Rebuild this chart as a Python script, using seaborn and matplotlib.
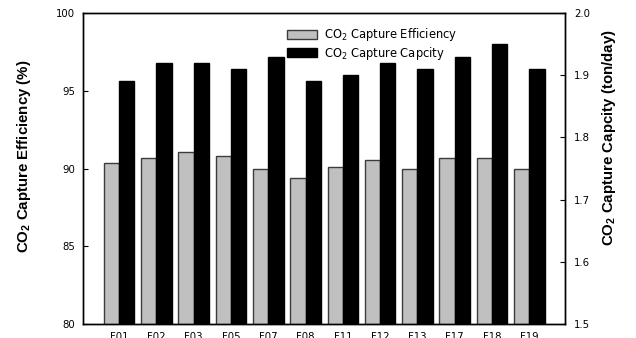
import matplotlib
matplotlib.use("Agg")
import matplotlib.pyplot as plt
from matplotlib.patches import Patch
import seaborn as sns
import pandas as pd

# Filter units and measured values
filters = ["F01", "F02", "F03", "F05", "F07", "F08", "F11", "F12", "F13", "F17", "F18", "F19"]
efficiency = [90.33, 90.68, 91.04, 90.82, 90.0, 89.37, 90.12, 90.55, 89.95, 90.68, 90.68, 90.0]
capacity = [1.89, 1.92, 1.92, 1.91, 1.93, 1.89, 1.90, 1.92, 1.91, 1.93, 1.95, 1.91]

eff_name = "CO$_2$ Capture Efficiency"
cap_name = "CO$_2$ Capture Capcity"
series_order = [eff_name, cap_name]
fill = {eff_name: "#c0c0c0", cap_name: "#000000"}
edge = {eff_name: "#3c3c3c", cap_name: "#000000"}

df_eff = pd.DataFrame({"Filter": filters, "value": efficiency, "series": eff_name})
df_cap = pd.DataFrame({"Filter": filters, "value": capacity, "series": cap_name})

sns.set_style("ticks")
plt.rcParams["font.family"] = ["DejaVu Sans"]
plt.rcParams["mathtext.fontset"] = "custom"
plt.rcParams["mathtext.rm"] = "DejaVu Sans"
plt.rcParams["mathtext.bf"] = "Liberation Sans:bold"
plt.rcParams["mathtext.it"] = "DejaVu Sans:italic"
plt.rcParams["text.color"] = "black"
plt.rcParams["axes.labelcolor"] = "black"
plt.rcParams["xtick.color"] = "black"
plt.rcParams["ytick.color"] = "black"

fig = plt.figure(figsize=(6.36, 3.38), dpi=100)
ax = fig.add_axes([0.1305, 0.0414, 0.888 - 0.1305, 0.9615 - 0.0414])
ax2 = ax.twinx()

# Efficiency on the left axis, capacity on the right; both share the dodge slots
sns.barplot(data=df_eff, x="Filter", y="value", hue="series", hue_order=series_order,
            order=filters, palette=fill, width=0.82, gap=0, dodge=True, legend=False, ax=ax,
            edgecolor=edge[eff_name], linewidth=1.0, saturation=1, errorbar=None)
sns.barplot(data=df_cap, x="Filter", y="value", hue="series", hue_order=series_order,
            order=filters, palette=fill, width=0.82, gap=0, dodge=True, legend=False, ax=ax2,
            edgecolor=edge[cap_name], linewidth=1.0, saturation=1, errorbar=None)

ax.set_xlim(-0.97, 11.95)
ax.set_ylim(80, 100)
ax2.set_ylim(1.5, 2.0)
ax.set_yticks([80, 85, 90, 95, 100])
ax2.set_yticks([1.5, 1.6, 1.7, 1.8, 1.9, 2.0])
ax2.set_yticklabels(["1.5", "1.6", "1.7", "1.8", "1.9", "2.0"])

label_font = dict(family="Liberation Sans", fontsize=10.8, fontweight="bold", color="black")
ax.set_xlabel("")
ax.set_ylabel(r"CO$_\mathbf{2}$ Capture Efficiency (%)", **label_font)
ax2.set_ylabel(r"CO$_\mathbf{2}$ Capture Capcity (ton/day)", **label_font)
ax.yaxis.set_label_coords(-0.104, 0.54)
ax2.yaxis.set_label_coords(1.074, 0.598)

ax.tick_params(axis="y", direction="in", length=3.4, width=0.8, labelsize=7.3, pad=5.5)
ax2.tick_params(axis="y", direction="in", length=3.4, width=0.8, labelsize=7.3, pad=6.5)
ax.tick_params(axis="x", length=0, labelsize=7.3, pad=6)

for a in (ax, ax2):
    for s in a.spines.values():
        s.set_visible(True)
        s.set_color("black")
        s.set_linewidth(1.0)

handles = [Patch(facecolor=fill[n], edgecolor=edge[n], linewidth=1.0) for n in series_order]
leg = ax2.legend(handles, series_order, loc="upper left", bbox_to_anchor=(0.414, 0.972),
                 frameon=False, fontsize=8.3, handlelength=2.64, handleheight=0.78,
                 handletextpad=0.6, labelspacing=0.12, borderaxespad=0)

fig.savefig("out.png", dpi=100)
